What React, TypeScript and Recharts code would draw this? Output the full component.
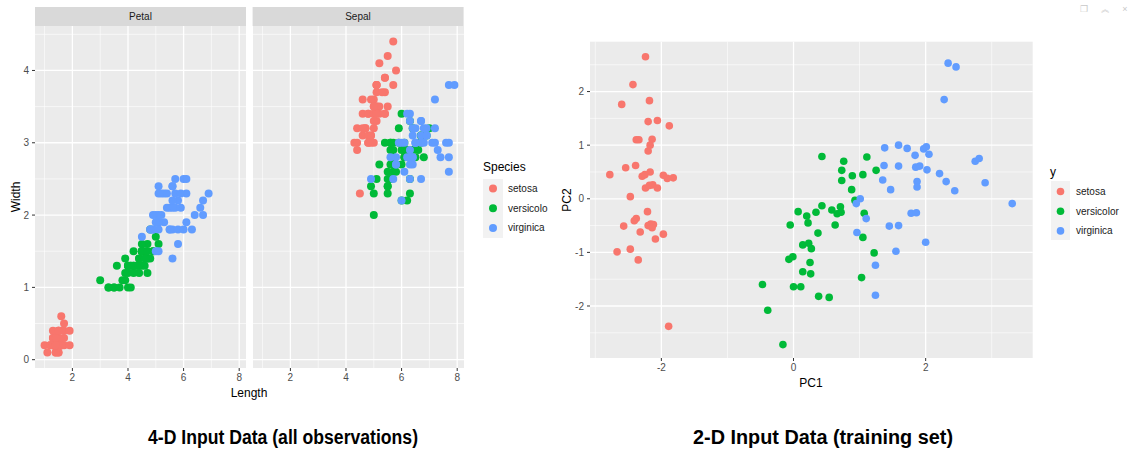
import React from 'react';
import { ScatterChart, Scatter, XAxis, YAxis, CartesianGrid, ReferenceLine } from 'recharts';

const FONT = '"Liberation Sans", Arial, Helvetica, sans-serif';
const CAPTION_FONT = '"Liberation Sans Narrow", "Liberation Sans", Arial, sans-serif';

const speciesNames = ['setosa', 'versicolor', 'virginica'];
const speciesLegendLeft = ['setosa', 'versicolo', 'virginica'];
const speciesColors = ['#F8766D', '#00BA38', '#619CFF'];

// ---- Iris measurements (all 150 observations) ----
const setosaSepalLength = [5.1,4.9,4.7,4.6,5.0,5.4,4.6,5.0,4.4,4.9,5.4,4.8,4.8,4.3,5.8,5.7,5.4,5.1,5.7,5.1,5.4,5.1,4.6,5.1,4.8,5.0,5.0,5.2,5.2,4.7,4.8,5.4,5.2,5.5,4.9,5.0,5.5,4.9,4.4,5.1,5.0,4.5,4.4,5.0,5.1,4.8,5.1,4.6,5.3,5.0];
const setosaSepalWidth = [3.5,3.0,3.2,3.1,3.6,3.9,3.4,3.4,2.9,3.1,3.7,3.4,3.0,3.0,4.0,4.4,3.9,3.5,3.8,3.8,3.4,3.7,3.6,3.3,3.4,3.0,3.4,3.5,3.4,3.2,3.1,3.4,4.1,4.2,3.1,3.2,3.5,3.6,3.0,3.4,3.5,2.3,3.2,3.5,3.8,3.0,3.8,3.2,3.7,3.3];
const setosaPetalLength = [1.4,1.4,1.3,1.5,1.4,1.7,1.4,1.5,1.4,1.5,1.5,1.6,1.4,1.1,1.2,1.5,1.3,1.4,1.7,1.5,1.7,1.5,1.0,1.7,1.9,1.6,1.6,1.5,1.4,1.6,1.6,1.5,1.5,1.4,1.5,1.2,1.3,1.4,1.3,1.5,1.3,1.3,1.3,1.6,1.9,1.4,1.6,1.4,1.5,1.4];
const setosaPetalWidth = [0.2,0.2,0.2,0.2,0.2,0.4,0.3,0.2,0.2,0.1,0.2,0.2,0.1,0.1,0.2,0.4,0.4,0.3,0.3,0.3,0.2,0.4,0.2,0.5,0.2,0.2,0.4,0.2,0.2,0.2,0.2,0.4,0.1,0.2,0.2,0.2,0.2,0.1,0.2,0.2,0.3,0.3,0.2,0.6,0.4,0.3,0.2,0.2,0.2,0.2];

const versicolorSepalLength = [7.0,6.4,6.9,5.5,6.5,5.7,6.3,4.9,6.6,5.2,5.0,5.9,6.0,6.1,5.6,6.7,5.6,5.8,6.2,5.6,5.9,6.1,6.3,6.1,6.4,6.6,6.8,6.7,6.0,5.7,5.5,5.5,5.8,6.0,5.4,6.0,6.7,6.3,5.6,5.5,5.5,6.1,5.8,5.0,5.6,5.7,5.7,6.2,5.1,5.7];
const versicolorSepalWidth = [3.2,3.2,3.1,2.3,2.8,2.8,3.3,2.4,2.9,2.7,2.0,3.0,2.2,2.9,2.9,3.1,3.0,2.7,2.2,2.5,3.2,2.8,2.5,2.8,2.9,3.0,2.8,3.0,2.9,2.6,2.4,2.4,2.7,2.7,3.0,3.4,3.1,2.3,3.0,2.5,2.6,3.0,2.6,2.3,2.7,3.0,2.9,2.9,2.5,2.8];
const versicolorPetalLength = [4.7,4.5,4.9,4.0,4.6,4.5,4.7,3.3,4.6,3.9,3.5,4.2,4.0,4.7,3.6,4.4,4.5,4.1,4.5,3.9,4.8,4.0,4.9,4.7,4.3,4.4,4.8,5.0,4.5,3.5,3.8,3.7,3.9,5.1,4.5,4.5,4.7,4.4,4.1,4.0,4.4,4.6,4.0,3.3,4.2,4.2,4.2,4.3,3.0,4.1];
const versicolorPetalWidth = [1.4,1.5,1.5,1.3,1.5,1.3,1.6,1.0,1.3,1.4,1.0,1.5,1.0,1.4,1.3,1.4,1.5,1.0,1.5,1.1,1.8,1.3,1.5,1.2,1.3,1.4,1.4,1.7,1.5,1.0,1.1,1.0,1.2,1.6,1.5,1.6,1.5,1.3,1.3,1.3,1.2,1.4,1.2,1.0,1.3,1.2,1.3,1.3,1.1,1.3];

const virginicaSepalLength = [6.3,5.8,7.1,6.3,6.5,7.6,4.9,7.3,6.7,7.2,6.5,6.4,6.8,5.7,5.8,6.4,6.5,7.7,7.7,6.0,6.9,5.6,7.7,6.3,6.7,7.2,6.2,6.1,6.4,7.2,7.4,7.9,6.4,6.3,6.1,7.7,6.3,6.4,6.0,6.9,6.7,6.9,5.8,6.8,6.7,6.7,6.3,6.5,6.2,5.9];
const virginicaSepalWidth = [3.3,2.7,3.0,2.9,3.0,3.0,2.5,2.9,2.5,3.6,3.2,2.7,3.0,2.5,2.8,3.2,3.0,3.8,2.6,2.2,3.2,2.8,2.8,2.7,3.3,3.2,2.8,3.0,2.8,3.0,2.8,3.8,2.8,2.8,2.6,3.0,3.4,3.1,3.0,3.1,3.1,3.1,2.7,3.2,3.3,3.0,2.5,3.0,3.4,3.0];
const virginicaPetalLength = [6.0,5.1,5.9,5.6,5.8,6.6,4.5,6.3,5.8,6.1,5.1,5.3,5.5,5.0,5.1,5.3,5.5,6.7,6.9,5.0,5.7,4.9,6.7,4.9,5.7,6.0,4.8,4.9,5.6,5.8,6.1,6.4,5.6,5.1,5.6,6.1,5.6,5.5,4.8,5.4,5.6,5.1,5.1,5.9,5.7,5.2,5.0,5.2,5.4,5.1];
const virginicaPetalWidth = [2.5,1.9,2.1,1.8,2.2,2.1,1.7,1.8,1.8,2.5,2.0,1.9,2.1,2.0,2.4,2.3,1.8,2.2,2.3,1.5,2.3,2.0,2.0,1.8,2.1,1.8,1.8,1.8,2.1,1.6,1.9,2.0,2.2,1.5,1.4,2.3,2.4,1.8,1.8,2.1,2.4,2.3,1.9,2.3,2.5,2.3,1.9,2.0,2.3,1.8];

// ---- PCA scores of the training set ----
const setosaPC1 = [-2.24,-2.43,-2.60,-2.18,-2.20,-2.06,-1.88,-2.38,-2.34,-2.14,-2.17,-2.20,-2.78,-2.54,-2.39,-2.29,-2.25,-2.17,-1.97,-1.91,-1.82,-2.24,-2.18,-2.13,-2.06,-2.47,-2.21,-2.57,-2.38,-2.41,-2.20,-2.16,-2.12,-2.14,-2.32,-1.97,-2.09,-2.67,-2.47,-2.35,-1.89];
const setosaPC2 = [2.65,2.13,1.76,1.83,1.44,1.46,1.36,1.10,1.10,1.11,1.00,0.89,0.45,0.58,0.62,0.42,0.45,0.50,0.44,0.38,0.39,0.20,0.25,0.26,0.20,0.04,-0.24,-0.51,-0.37,-0.41,-0.50,-0.47,-0.48,-0.54,-0.62,-0.66,-0.75,-0.99,-0.94,-1.14,-2.38];
const versicolorPC1 = [0.43,0.76,1.11,0.73,1.25,0.89,1.05,0.73,0.88,0.93,0.07,0.20,0.22,0.34,0.43,0.58,0.66,0.71,0.72,-0.05,0.63,1.07,0.37,1.05,0.14,0.23,0.27,1.22,-0.07,-0.01,0.25,0.14,0.26,1.03,-0.47,0.00,0.11,0.38,0.54,-0.39,-0.16];
const versicolorPC2 = [0.79,0.70,0.78,0.53,0.53,0.43,0.45,0.34,0.17,-0.03,-0.24,-0.32,-0.45,-0.25,-0.13,-0.21,-0.28,-0.15,-0.25,-0.49,-0.49,-0.27,-0.64,-0.72,-0.86,-0.83,-0.93,-1.01,-1.13,-1.08,-1.19,-1.36,-1.40,-1.47,-1.60,-1.64,-1.64,-1.82,-1.84,-2.08,-2.72];
const virginicaPC1 = [2.34,2.46,2.28,1.38,1.59,1.72,1.97,2.01,1.84,2.05,2.75,2.81,1.37,1.59,1.85,1.91,2.02,2.21,1.35,1.87,1.87,2.31,2.90,1.47,2.44,1.01,0.95,3.31,1.78,1.86,1.10,1.45,1.59,0.96,2.00,1.55,1.24,1.24];
const virginicaPC2 = [2.53,2.46,1.85,0.95,1.00,0.94,0.93,0.97,0.81,0.83,0.70,0.75,0.62,0.61,0.59,0.61,0.54,0.47,0.35,0.32,0.22,0.32,0.30,0.17,0.15,0.00,-0.09,-0.09,-0.27,-0.26,-0.37,-0.51,-0.50,-0.63,-0.81,-0.98,-1.24,-1.80];

// ---- axis ticks ----
const facetXTicks = [2, 4, 6, 8];
const facetXMinor = [1, 3, 5, 7];
const facetYTicks = [0, 1, 2, 3, 4];
const facetYMinor = [0.5, 1.5, 2.5, 3.5, 4.5];
const facetXDomain: [number, number] = [0.655, 8.245];
const facetYDomain: [number, number] = [-0.115, 4.615];

const pcXTicks = [-2, 0, 2];
const pcXMinor = [-3, -1, 1, 3];
const pcYTicks = [-2, -1, 0, 1, 2];
const pcYMinor = [-2.5, -1.5, -0.5, 0.5, 1.5, 2.5];
const pcXDomain: [number, number] = [-3.08, 3.62];
const pcYDomain: [number, number] = [-2.97, 2.93];

const zip = (xs: number[], ys: number[]) => xs.map((x, i) => ({ x, y: ys[i] }));

const petalSeries = [
  zip(setosaPetalLength, setosaPetalWidth),
  zip(versicolorPetalLength, versicolorPetalWidth),
  zip(virginicaPetalLength, virginicaPetalWidth),
];
const sepalSeries = [
  zip(setosaSepalLength, setosaSepalWidth),
  zip(versicolorSepalLength, versicolorSepalWidth),
  zip(virginicaSepalLength, virginicaSepalWidth),
];
const pcSeries = [
  zip(setosaPC1, setosaPC2),
  zip(versicolorPC1, versicolorPC2),
  zip(virginicaPC1, virginicaPC2),
];

const dot = (color: string, r: number) => (p: any) => (
  <circle cx={p.cx} cy={p.cy} r={r} fill={color} stroke="none" />
);

const tickStyle = { fill: '#4D4D4D', fontSize: 10, fontFamily: FONT };
const tickLineStyle = { stroke: '#333333', strokeWidth: 1 };

function Panel(props: {
  left: number; width: number; height: number;
  margin: any; yWidth: number; showY: boolean;
  series: { x: number; y: number }[][];
  xDomain: [number, number]; yDomain: [number, number];
  xTicks: number[]; xMinor: number[]; yTicks: number[]; yMinor: number[];
  r: number;
}) {
  const { left, width, height, margin, yWidth, showY, series, xDomain, yDomain, xTicks, xMinor, yTicks, yMinor, r } = props;
  return (
    <div style={{ position: 'absolute', left, top: 0 }}>
      <ScatterChart width={width} height={height} margin={margin}>
        <CartesianGrid fill="#EBEBEB" stroke="none" horizontal={false} vertical={false} />
        {xMinor.map((v) => (
          <ReferenceLine key={'xm' + v} x={v} stroke="#FFFFFF" strokeWidth={0.6} />
        ))}
        {yMinor.map((v) => (
          <ReferenceLine key={'ym' + v} y={v} stroke="#FFFFFF" strokeWidth={0.6} />
        ))}
        {xTicks.map((v) => (
          <ReferenceLine key={'xM' + v} x={v} stroke="#FFFFFF" strokeWidth={1.3} />
        ))}
        {yTicks.map((v) => (
          <ReferenceLine key={'yM' + v} y={v} stroke="#FFFFFF" strokeWidth={1.3} />
        ))}
        <XAxis
          type="number"
          dataKey="x"
          domain={xDomain}
          ticks={xTicks}
          interval={0}
          allowDataOverflow
          axisLine={false}
          tickLine={tickLineStyle}
          tickSize={3}
          tickMargin={3}
          tick={tickStyle}
          height={20}
        />
        <YAxis
          type="number"
          dataKey="y"
          domain={yDomain}
          ticks={yTicks}
          interval={0}
          allowDataOverflow
          hide={!showY}
          width={yWidth}
          axisLine={false}
          tickLine={tickLineStyle}
          tickSize={3}
          tickMargin={3}
          tick={tickStyle}
        />
        {series.map((s, i) => (
          <Scatter
            key={speciesNames[i]}
            name={speciesNames[i]}
            data={s}
            fill={speciesColors[i]}
            isAnimationActive={false}
            shape={dot(speciesColors[i], r)}
          />
        ))}
      </ScatterChart>
    </div>
  );
}

export default function App() {
  return (
    <div
      style={{
        position: 'absolute', left: 0, top: 0, width: 1130, height: 456,
        background: '#FFFFFF', overflow: 'hidden', fontFamily: FONT,
      }}
    >
      {/* Petal facet */}
      <Panel
        left={0} width={260} height={400}
        margin={{ top: 26, right: 14, bottom: 12, left: 0 }}
        yWidth={35} showY
        series={petalSeries}
        xDomain={facetXDomain} yDomain={facetYDomain}
        xTicks={facetXTicks} xMinor={facetXMinor} yTicks={facetYTicks} yMinor={facetYMinor}
        r={4}
      />
      {/* Sepal facet */}
      <Panel
        left={252.6} width={211} height={400}
        margin={{ top: 26, right: 0, bottom: 12, left: 0 }}
        yWidth={0} showY={false}
        series={sepalSeries}
        xDomain={facetXDomain} yDomain={facetYDomain}
        xTicks={facetXTicks} xMinor={facetXMinor} yTicks={facetYTicks} yMinor={facetYMinor}
        r={4}
      />
      {/* PCA plot */}
      <Panel
        left={540} width={500} height={400}
        margin={{ top: 41.7, right: 7.3, bottom: 22, left: 0 }}
        yWidth={50} showY
        series={pcSeries}
        xDomain={pcXDomain} yDomain={pcYDomain}
        xTicks={pcXTicks} xMinor={pcXMinor} yTicks={pcYTicks} yMinor={pcYMinor}
        r={3.8}
      />

      <svg
        width={1130} height={456}
        style={{ position: 'absolute', left: 0, top: 0, pointerEvents: 'none' }}
        fontFamily={FONT}
      >
        {/* facet strips */}
        <rect x={35} y={7} width={211} height={19} fill="#D9D9D9" />
        <text x={140.5} y={16.5} fontSize={10} fill="#1A1A1A" textAnchor="middle" dominantBaseline="central">Petal</text>
        <rect x={252.6} y={7} width={211} height={19} fill="#D9D9D9" />
        <text x={358} y={16.5} fontSize={10} fill="#1A1A1A" textAnchor="middle" dominantBaseline="central">Sepal</text>

        {/* axis titles, left */}
        <text x={16} y={197} fontSize={12} fill="#000" textAnchor="middle" dominantBaseline="central" transform="rotate(-90 16 197)">Width</text>
        <text x={249} y={393} fontSize={12} fill="#000" textAnchor="middle" dominantBaseline="central">Length</text>

        {/* legend, left */}
        <text x={483} y={167} fontSize={12} fill="#000" dominantBaseline="central">Species</text>
        <rect x={483} y={179} width={20} height={59} fill="#F2F2F2" />
        {speciesLegendLeft.map((n, i) => (
          <g key={n}>
            <circle cx={493} cy={188.5 + i * 19.7} r={4} fill={speciesColors[i]} />
            <text x={508} y={188.5 + i * 19.7} fontSize={10} fill="#1A1A1A" dominantBaseline="central">{n}</text>
          </g>
        ))}

        {/* axis titles, right */}
        <text x={811} y={383} fontSize={12} fill="#000" textAnchor="middle" dominantBaseline="central">PC1</text>
        <text x={567} y={200} fontSize={12} fill="#000" textAnchor="middle" dominantBaseline="central" transform="rotate(-90 567 200)">PC2</text>

        {/* legend, right */}
        <text x={1050} y={172} fontSize={12} fill="#000" dominantBaseline="central">y</text>
        <rect x={1051} y={181} width={19} height={59} fill="#F2F2F2" />
        {speciesNames.map((n, i) => (
          <g key={n}>
            <circle cx={1060.5} cy={191.5 + i * 19.7} r={3.8} fill={speciesColors[i]} />
            <text x={1076} y={191.5 + i * 19.7} fontSize={10} fill="#1A1A1A" dominantBaseline="central">{n}</text>
          </g>
        ))}

        {/* pane icons */}
        <text x={1084} y={9} fontSize={9} fill="#C8C8C8" textAnchor="middle" dominantBaseline="central">❐</text>
        <text x={1105} y={9} fontSize={9} fill="#C8C8C8" textAnchor="middle" dominantBaseline="central">︽</text>
        <text x={1125} y={9} fontSize={9} fill="#C8C8C8" textAnchor="middle" dominantBaseline="central">×</text>

        {/* captions */}
        <text x={283} y={444} fontSize={19.5} fontWeight="bold" fill="#000" textAnchor="middle" fontFamily={CAPTION_FONT} textLength={270} lengthAdjust="spacingAndGlyphs">4-D Input Data (all observations)</text>
        <text x={823} y={444} fontSize={19.5} fontWeight="bold" fill="#000" textAnchor="middle" fontFamily={CAPTION_FONT} textLength={260} lengthAdjust="spacingAndGlyphs">2-D Input Data (training set)</text>
      </svg>
    </div>
  );
}
